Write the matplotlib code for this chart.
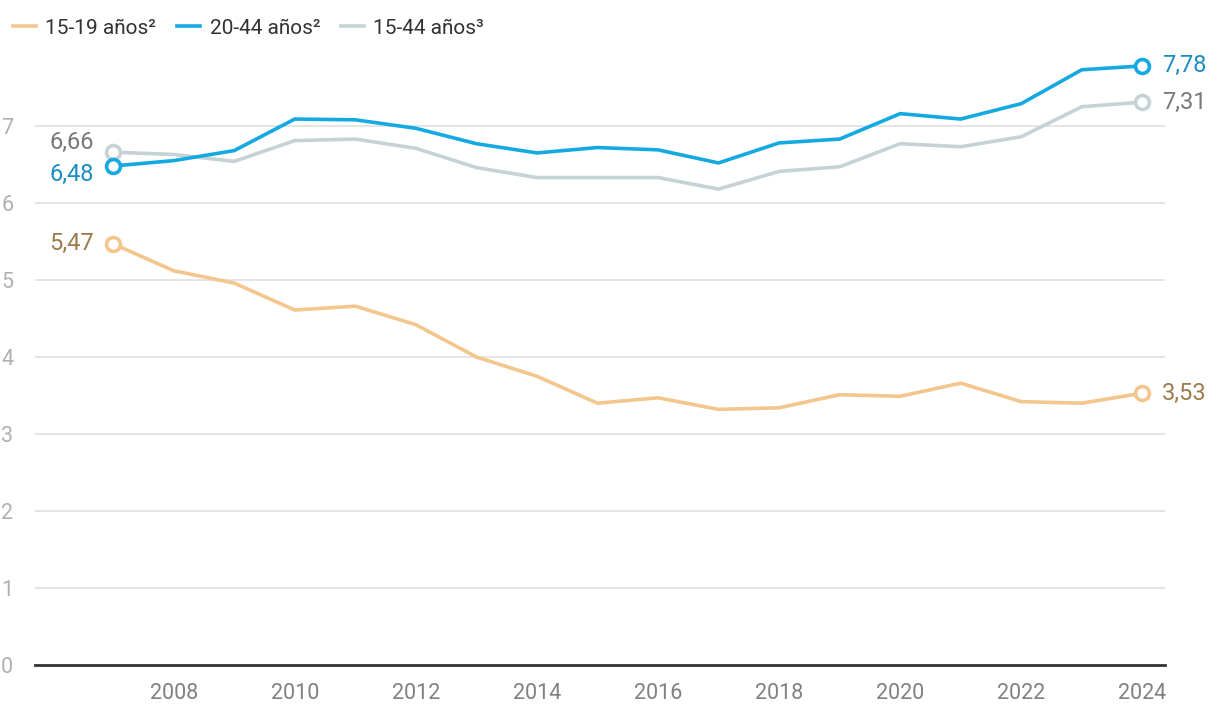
import matplotlib
matplotlib.use("Agg")
import matplotlib.pyplot as plt

plt.rcParams['font.family'] = ['Roboto', 'DejaVu Sans']

years = list(range(2007, 2025))
teen = [5.47, 5.12, 4.96, 4.61, 4.66, 4.42, 4.00, 3.75, 3.40, 3.47,
        3.32, 3.34, 3.51, 3.49, 3.66, 3.42, 3.40, 3.53]
adult = [6.48, 6.55, 6.68, 7.09, 7.08, 6.97, 6.77, 6.65, 6.72, 6.69,
         6.52, 6.78, 6.83, 7.16, 7.09, 7.29, 7.73, 7.78]
total = [6.66, 6.63, 6.54, 6.81, 6.83, 6.71, 6.46, 6.33, 6.33, 6.33,
         6.18, 6.41, 6.47, 6.77, 6.73, 6.86, 7.25, 7.31]
names = ['15-19 años²', '20-44 años²', '15-44 años³']
yticks = [0, 1, 2, 3, 4, 5, 6, 7]
xticks = [2008, 2010, 2012, 2014, 2016, 2018, 2020, 2022, 2024]

line_cols = ['#f2c68c', '#15a9e1', '#c6d3d6']
text_cols = ['#9c7a4c', '#1a8cc4', '#787878']

fig = plt.figure(figsize=(12.2, 7.18), dpi=100)
ax = fig.add_axes([0.0287, 0.0738, 0.926, 0.858])

series = [teen, adult, total]
# draw gray first so the blue sits on top
for i in [2, 0, 1]:
    vals = series[i]
    ax.plot(years, vals, color=line_cols[i], lw=2.6, label=names[i],
            solid_joinstyle='miter', zorder=3)
    ax.plot([years[0], years[-1]], [vals[0], vals[-1]], 'o', ls='none',
            ms=10, mfc='white', mec=line_cols[i], mew=2.6, zorder=4)

# start labels (left of first point), end labels right of last point
start_off = {0: 0, 1: -8, 2: 10}
for i, vals in enumerate(series):
    ax.annotate(f"{vals[0]:.2f}".replace('.', ','), (years[0], vals[0]),
                xytext=(-14, start_off[i] * 0.72), textcoords='offset points',
                ha='right', va='center', fontsize=17, color=text_cols[i])
    ax.annotate(f"{vals[-1]:.2f}".replace('.', ','), (years[-1], vals[-1]),
                xytext=(14, 0), textcoords='offset points',
                ha='left', va='center', fontsize=17, color=text_cols[i])

ax.set_xlim(2005.71, 2024.37)
ax.set_ylim(0, 8)
ax.set_yticks(yticks)
ax.set_xticks(xticks)
ax.yaxis.grid(True, color='#e3e3e3', lw=1.3)
ax.set_axisbelow(True)
for s in ['top', 'right', 'left']:
    ax.spines[s].set_visible(False)
ax.spines['bottom'].set_color('#333333')
ax.spines['bottom'].set_linewidth(2)
ax.spines['bottom'].set_zorder(5)
ax.tick_params(axis='both', length=0, labelsize=15.5, colors='#b0b0b0')
ax.tick_params(axis='x', pad=13, labelcolor='#808080')
for lbl in ax.get_yticklabels():
    lbl.set_horizontalalignment('center')
ax.tick_params(axis='y', pad=20)

h, l = ax.get_legend_handles_labels()
order = [l.index(n) for n in names]
fig.legend([h[k] for k in order], names, loc='upper left',
           bbox_to_anchor=(-0.0046, 1.0), ncol=3, frameon=False, fontsize=15,
           handlelength=1.1, handletextpad=0.45, columnspacing=1.0,
           labelcolor='#333333')

fig.savefig('out.png', dpi=100)
